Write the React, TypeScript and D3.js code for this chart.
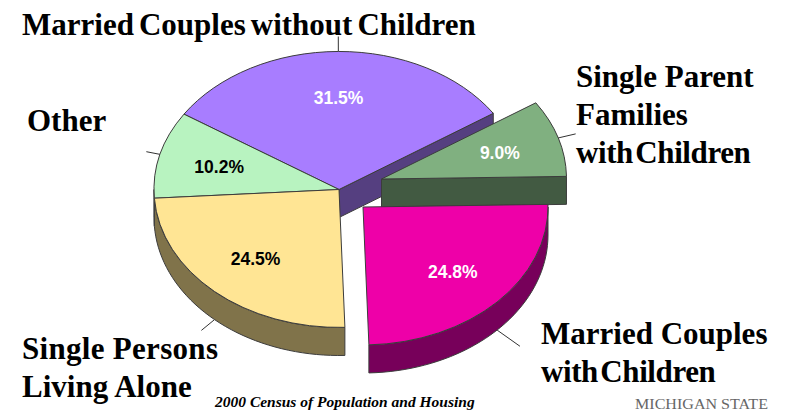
import * as React from 'react'
import * as d3 from 'd3'

const WIDTH = 789
const HEIGHT = 411

// clockwise from the purple/green cut
const slices = ['Single Parent', 'Married With', 'Single Persons', 'Other', 'Married Without']
const shares = [9.0, 24.8, 24.5, 10.2, 31.5]
const topColors = ['#80B080', '#EE00A8', '#FFE594', '#B8F3C0', '#A87DFF']
const sideColors = ['#425A42', '#77005A', '#80734A', '#5C7960', '#553F80']
const explodeX = [42.5, 24, 0, 0, 0]
const explodeY = [-10.5, 17.5, 0, 0, 0]
const leaderLengths = [18, 28, 17, 14, 15]
const percentColors = ['#fff', '#fff', '#000', '#000', '#fff']
const drawOrder = [4, 3, 2, 0, 1]

const categoryLabels = [
  { lines: ['Married Couples without Children'], x: 22, y: 35, wordGap: [-2.7], tight: [0] },
  { lines: ['Other'], x: 27, y: 131, wordGap: [0], tight: [0] },
  {
    lines: ['Single Parent', 'Families', 'with Children'],
    x: 576,
    y: 87,
    wordGap: [0, 0, -5],
    tight: [0, 0, -0.4],
  },
  { lines: ['Married Couples', 'with Children'], x: 541, y: 344, wordGap: [0, -5], tight: [0, -0.4] },
  { lines: ['Single Persons', 'Living Alone'], x: 22, y: 359, wordGap: [0, 0], tight: [0.3, 0] },
]

const cx = 339
const cy = 189.5
const rx = 185
const ry = 138
const depth = 28
const startDeg = 56.5

const pie = d3
  .pie<number>()
  .sort(null)
  .startAngle((startDeg * Math.PI) / 180)
  .endAngle(((startDeg + 360) * Math.PI) / 180)

const arcs = pie(shares)
const unitArc = d3.arc<d3.PieArcDatum<number>>().innerRadius(0).outerRadius(1)

const px = (i: number, a: number, k = 1) => cx + explodeX[i] + rx * k * Math.sin(a)
const py = (i: number, a: number, k = 1) => cy + explodeY[i] - ry * k * Math.cos(a)

// front rim of a slice, only the part between 90 and 270 degrees can be seen
function rimPath(i: number) {
  const a0 = Math.max(arcs[i].startAngle, Math.PI / 2)
  const a1 = Math.min(arcs[i].endAngle, (3 * Math.PI) / 2)
  if (a1 <= a0) return null
  const angles = d3.range(0, 41).map((s) => a0 + ((a1 - a0) * s) / 40)
  const top = angles.map((a) => [px(i, a), py(i, a)] as [number, number])
  const bottom = angles
    .slice()
    .reverse()
    .map((a) => [px(i, a), py(i, a) + depth] as [number, number])
  return d3.line()([...top, ...bottom]) + 'Z'
}

// cut face along the end edge of a slice
function cutPath(i: number) {
  const a = arcs[i].endAngle % (2 * Math.PI)
  if (a > Math.PI / 2 + 0.05) return null
  const ax = px(i, 0, 0)
  const ay = py(i, 0, 0)
  return (
    d3.line()([
      [ax, ay],
      [px(i, a), py(i, a)],
      [px(i, a), py(i, a) + depth],
      [ax, ay + depth],
    ]) + 'Z'
  )
}

function leader(i: number) {
  const a = (arcs[i].startAngle + arcs[i].endAngle) / 2
  const front = Math.cos(a) < 0 ? depth : 0
  const x0 = px(i, a)
  const y0 = py(i, a) + front
  const dx = rx * Math.sin(a)
  const dy = -ry * Math.cos(a)
  const n = Math.hypot(dx, dy)
  return {
    x1: x0,
    y1: y0,
    x2: x0 + (dx / n) * leaderLengths[i],
    y2: y0 + (dy / n) * leaderLengths[i],
  }
}

const stroke = '#3c3c3c'
const serif = '"Liberation Serif", serif'
const sans = '"Liberation Sans", sans-serif'

export default function App() {
  return (
    <svg
      width={WIDTH}
      height={HEIGHT}
      style={{ position: 'absolute', left: 0, top: 0, background: '#fff' }}
    >
      {arcs.map((_, i) => {
        const l = leader(i)
        return <line key={slices[i]} {...l} stroke="#333" strokeWidth={1} />
      })}

      {drawOrder.map((i) => {
        const rim = rimPath(i)
        const cut = cutPath(i)
        return (
          <g key={slices[i]}>
            {cut && <path d={cut} fill={sideColors[i]} stroke={stroke} strokeWidth={1} />}
            {rim && <path d={rim} fill={sideColors[i]} stroke={stroke} strokeWidth={1} />}
            <path
              d={unitArc(arcs[i]) as string}
              transform={`translate(${cx + explodeX[i]},${cy + explodeY[i]}) scale(${rx},${ry})`}
              fill={topColors[i]}
              stroke={stroke}
              strokeWidth={1}
              vectorEffect="non-scaling-stroke"
            />
          </g>
        )
      })}

      {arcs.map((d, i) => {
        const a = (d.startAngle + d.endAngle) / 2
        return (
          <text
            key={slices[i]}
            x={px(i, a, 0.67)}
            y={py(i, a, 0.67) + 7}
            textAnchor="middle"
            fontFamily={sans}
            fontWeight="bold"
            fontSize={17.5}
            fill={percentColors[i]}
          >
            {shares[i].toFixed(1)}%
          </text>
        )
      })}

      {categoryLabels.map((c) =>
        c.lines.map((t, j) => (
          <text
            key={c.lines[0] + t}
            x={c.x}
            y={c.y + j * 38}
            fontFamily={serif}
            fontWeight="bold"
            fontSize={31}
            wordSpacing={c.wordGap[j]}
            letterSpacing={c.tight[j]}
            fill="#000"
          >
            {t}
          </text>
        )),
      )}

      <text
        x={215}
        y={407}
        fontFamily={serif}
        fontWeight="bold"
        fontStyle="italic"
        fontSize={15.5}
        fill="#000"
      >
        2000 Census of Population and Housing
      </text>
      <text
        x={635}
        y={409}
        fontFamily={serif}
        fontSize={14.5}
        fill="#666"
        textLength={133}
        lengthAdjust="spacingAndGlyphs"
      >
        MICHIGAN STATE
      </text>
    </svg>
  )
}
